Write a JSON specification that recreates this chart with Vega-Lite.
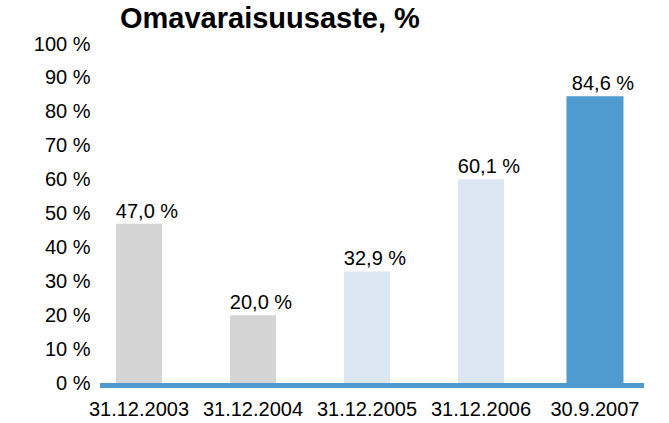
{
  "$schema": "https://vega.github.io/schema/vega-lite/v6.json",
  "width": 544,
  "height": 339,
  "autosize": {"type": "none"},
  "padding": {"left": 100, "top": 44, "right": 25, "bottom": 40},
  "background": "white",
  "config": {
    "view": {"stroke": null},
    "font": "Liberation Sans"
  },
  "title": {
    "text": "Omavaraisuusaste, %",
    "anchor": "start",
    "frame": "group",
    "dx": 20,
    "dy": 26,
    "offset": 3,
    "baseline": "alphabetic",
    "fontSize": 29,
    "fontWeight": "bold",
    "font": "Liberation Sans",
    "color": "black"
  },
  "data": {
    "values": [
      {"date": "31.12.2003", "value": 47.0, "label": "47,0 %"},
      {"date": "31.12.2004", "value": 20.0, "label": "20,0 %"},
      {"date": "31.12.2005", "value": 32.9, "label": "32,9 %"},
      {"date": "31.12.2006", "value": 60.1, "label": "60,1 %"},
      {"date": "30.9.2007", "value": 84.6, "label": "84,6 %"}
    ]
  },
  "encoding": {
    "x": {
      "field": "date",
      "type": "nominal",
      "sort": null,
      "scale": {"paddingInner": 0.628, "paddingOuter": 0.2, "align": 0.39},
      "axis": {
        "title": null,
        "ticks": false,
        "domain": false,
        "labelAngle": 0,
        "labelFontSize": 20,
        "labelColor": "black",
        "labelPadding": 16,
        "labelFont": "Liberation Sans"
      }
    },
    "y": {
      "field": "value",
      "type": "quantitative",
      "scale": {"domain": [0, 100], "nice": false},
      "axis": {
        "title": null,
        "values": [0, 10, 20, 30, 40, 50, 60, 70, 80, 90, 100],
        "labelExpr": "datum.value + ' %'",
        "grid": false,
        "ticks": false,
        "domain": false,
        "labelFontSize": 20,
        "labelColor": "black",
        "labelPadding": 10,
        "labelFont": "Liberation Sans"
      }
    }
  },
  "layer": [
    {
      "mark": {"type": "bar"},
      "encoding": {
        "size": {
          "condition": {"test": "datum.date === '30.9.2007'", "value": 57},
          "value": 46
        },
        "color": {
          "field": "date",
          "type": "nominal",
          "sort": null,
          "scale": {
            "domain": ["31.12.2003", "31.12.2004", "31.12.2005", "31.12.2006", "30.9.2007"],
            "range": ["#d4d4d4", "#d4d4d4", "#dce6f2", "#dce6f2", "#4f9bcf"]
          },
          "legend": null
        }
      }
    },
    {
      "mark": {"type": "text", "baseline": "alphabetic", "dx": 8, "dy": -6, "fontSize": 20, "color": "black", "font": "Liberation Sans"},
      "encoding": {
        "text": {"field": "label"}
      }
    },
    {
      "data": {"values": [{"base": 0}]},
      "mark": {"type": "rule", "color": "#4f9bcf", "strokeWidth": 5, "yOffset": 2.5},
      "encoding": {
        "x": null,
        "y": {"field": "base", "type": "quantitative"}
      }
    }
  ]
}
